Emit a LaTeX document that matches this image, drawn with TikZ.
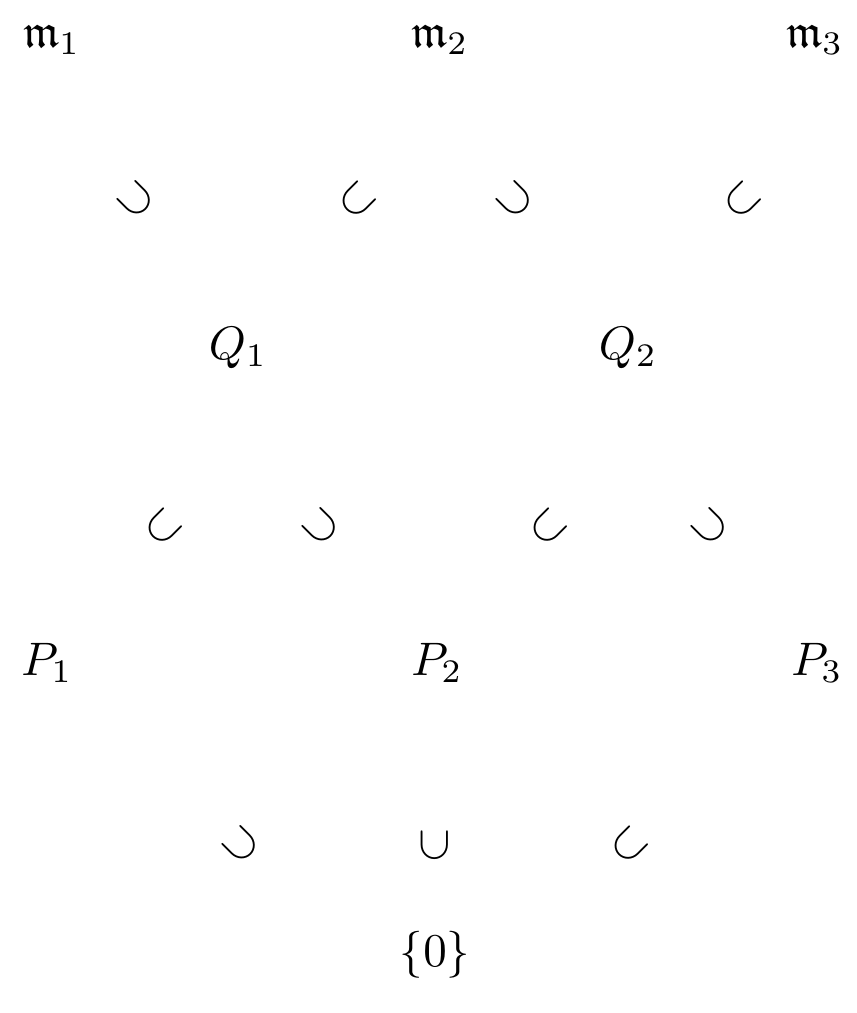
\documentclass[tikz,border=0pt]{standalone}
\usepackage{amssymb}
\begin{document}
\begin{tikzpicture}[x=0.2128pt,y=-0.2128pt,
  obj/.style={inner sep=0pt,anchor=center},
  incl/.style={inner sep=0pt,anchor=center}]
\useasboundingbox (0,0) rectangle (856,1013);
\node[obj] (m1) at (52,40) {$\mathfrak{m}_1$};
\node[obj] (m2) at (440,40) {$\mathfrak{m}_2$};
\node[obj] (m3) at (815,40) {$\mathfrak{m}_3$};
\node[obj] (Q1) at (238,348) {$Q_1$};
\node[obj] (Q2) at (628,348) {$Q_2$};
\node[obj] (P1) at (47,663) {$P_1$};
\node[obj] (P2) at (437,663) {$P_2$};
\node[obj] (P3) at (817,663) {$P_3$};
\node[obj] (z) at (435,955) {$\{0\}$};
% inclusions
\node[incl,rotate=135] (i1) at (136,200) {$\subset$};
\node[incl,rotate=45] (i2) at (357,200) {$\subset$};
\node[incl,rotate=135] (i3) at (515,200) {$\subset$};
\node[incl,rotate=45] (i4) at (742,200) {$\subset$};
\node[incl,rotate=45] (i5) at (163,527) {$\subset$};
\node[incl,rotate=135] (i6) at (321,527) {$\subset$};
\node[incl,rotate=45] (i7) at (548,527) {$\subset$};
\node[incl,rotate=135] (i8) at (710,527) {$\subset$};
\node[incl,rotate=135] (i9) at (241,845) {$\subset$};
\node[incl,rotate=90] (i10) at (435,845) {$\subset$};
\node[incl,rotate=45] (i11) at (629,845) {$\subset$};
\end{tikzpicture}
\end{document}
